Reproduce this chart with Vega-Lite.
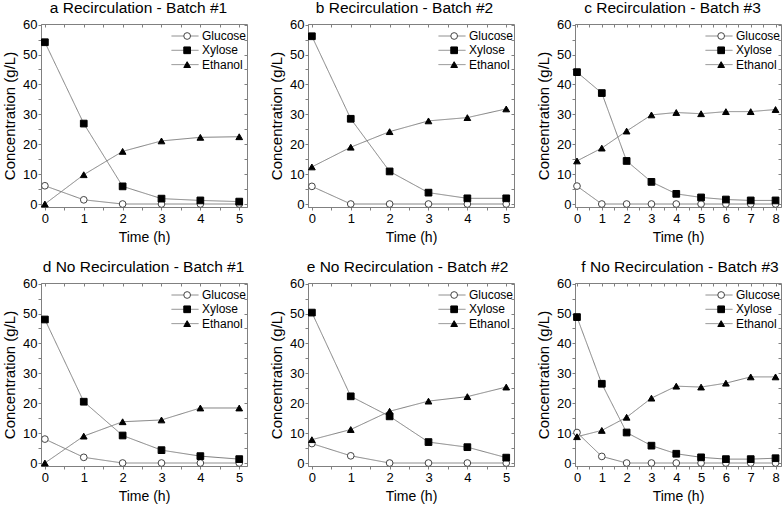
{
  "$schema": "https://vega.github.io/schema/vega-lite/v6.json",
  "padding": {"left": 2, "right": 1, "top": 0, "bottom": 2},
  "background": "white",
  "config": {
    "font": "Liberation Sans",
    "view": {"stroke": "#808080", "strokeWidth": 1},
    "title": {"fontSize": 15.5, "fontWeight": "normal", "offset": 2, "frame": "group", "anchor": "middle", "color": "black"},
    "axis": {"labelFontSize": 13, "titleFontSize": 14, "titleFontWeight": "normal", "labelColor": "black", "titleColor": "black", "domainColor": "#808080", "tickColor": "#808080", "tickSize": 3, "grid": false, "labelPadding": 1, "titlePadding": 5, "labelOverlap": false, "labelFlush": false},
    "axisX": {"labelPadding": 2},
    "axisY": {"titleFontSize": 15},
    "point": {"size": 45},
    "legend": {
      "orient": "none", "legendX": 130, "legendY": 5, "title": null, "labelFontSize": 12, "labelColor": "black",
      "clipHeight": 14, "rowPadding": 0.3, "symbolStrokeWidth": 1, "padding": 0
    }
  },
  "data": {"values": [
    {"p":"a","t":0,"c":"Glucose","v":6.1},{"p":"a","t":1,"c":"Glucose","v":1.4},{"p":"a","t":2,"c":"Glucose","v":0},{"p":"a","t":3,"c":"Glucose","v":0},{"p":"a","t":4,"c":"Glucose","v":0},{"p":"a","t":5,"c":"Glucose","v":0},
    {"p":"a","t":0,"c":"Xylose","v":54.1},{"p":"a","t":1,"c":"Xylose","v":26.9},{"p":"a","t":2,"c":"Xylose","v":5.9},{"p":"a","t":3,"c":"Xylose","v":1.8},{"p":"a","t":4,"c":"Xylose","v":1.2},{"p":"a","t":5,"c":"Xylose","v":0.8},
    {"p":"a","t":0,"c":"Ethanol","v":0},{"p":"a","t":1,"c":"Ethanol","v":9.8},{"p":"a","t":2,"c":"Ethanol","v":17.6},{"p":"a","t":3,"c":"Ethanol","v":21.1},{"p":"a","t":4,"c":"Ethanol","v":22.3},{"p":"a","t":5,"c":"Ethanol","v":22.5},
    {"p":"b","t":0,"c":"Glucose","v":5.9},{"p":"b","t":1,"c":"Glucose","v":0},{"p":"b","t":2,"c":"Glucose","v":0},{"p":"b","t":3,"c":"Glucose","v":0},{"p":"b","t":4,"c":"Glucose","v":0},{"p":"b","t":5,"c":"Glucose","v":0},
    {"p":"b","t":0,"c":"Xylose","v":56.1},{"p":"b","t":1,"c":"Xylose","v":28.5},{"p":"b","t":2,"c":"Xylose","v":10.9},{"p":"b","t":3,"c":"Xylose","v":3.8},{"p":"b","t":4,"c":"Xylose","v":1.9},{"p":"b","t":5,"c":"Xylose","v":1.9},
    {"p":"b","t":0,"c":"Ethanol","v":12.4},{"p":"b","t":1,"c":"Ethanol","v":19.0},{"p":"b","t":2,"c":"Ethanol","v":24.2},{"p":"b","t":3,"c":"Ethanol","v":27.8},{"p":"b","t":4,"c":"Ethanol","v":28.9},{"p":"b","t":5,"c":"Ethanol","v":31.8},
    {"p":"c","t":0,"c":"Glucose","v":6.0},{"p":"c","t":1,"c":"Glucose","v":0},{"p":"c","t":2,"c":"Glucose","v":0},{"p":"c","t":3,"c":"Glucose","v":0},{"p":"c","t":4,"c":"Glucose","v":0},{"p":"c","t":5,"c":"Glucose","v":0},{"p":"c","t":6,"c":"Glucose","v":0},{"p":"c","t":7,"c":"Glucose","v":0},{"p":"c","t":8,"c":"Glucose","v":0},
    {"p":"c","t":0,"c":"Xylose","v":44.1},{"p":"c","t":1,"c":"Xylose","v":37.1},{"p":"c","t":2,"c":"Xylose","v":14.4},{"p":"c","t":3,"c":"Xylose","v":7.4},{"p":"c","t":4,"c":"Xylose","v":3.4},{"p":"c","t":5,"c":"Xylose","v":2.2},{"p":"c","t":6,"c":"Xylose","v":1.5},{"p":"c","t":7,"c":"Xylose","v":1.2},{"p":"c","t":8,"c":"Xylose","v":1.2},
    {"p":"c","t":0,"c":"Ethanol","v":14.4},{"p":"c","t":1,"c":"Ethanol","v":18.7},{"p":"c","t":2,"c":"Ethanol","v":24.4},{"p":"c","t":3,"c":"Ethanol","v":29.8},{"p":"c","t":4,"c":"Ethanol","v":30.6},{"p":"c","t":5,"c":"Ethanol","v":30.2},{"p":"c","t":6,"c":"Ethanol","v":30.9},{"p":"c","t":7,"c":"Ethanol","v":30.9},{"p":"c","t":8,"c":"Ethanol","v":31.6},
    {"p":"d","t":0,"c":"Glucose","v":8.0},{"p":"d","t":1,"c":"Glucose","v":1.9},{"p":"d","t":2,"c":"Glucose","v":0},{"p":"d","t":3,"c":"Glucose","v":0},{"p":"d","t":4,"c":"Glucose","v":0},{"p":"d","t":5,"c":"Glucose","v":0},
    {"p":"d","t":0,"c":"Xylose","v":48.0},{"p":"d","t":1,"c":"Xylose","v":20.5},{"p":"d","t":2,"c":"Xylose","v":9.2},{"p":"d","t":3,"c":"Xylose","v":4.3},{"p":"d","t":4,"c":"Xylose","v":2.3},{"p":"d","t":5,"c":"Xylose","v":1.3},
    {"p":"d","t":0,"c":"Ethanol","v":0},{"p":"d","t":1,"c":"Ethanol","v":9.0},{"p":"d","t":2,"c":"Ethanol","v":13.8},{"p":"d","t":3,"c":"Ethanol","v":14.4},{"p":"d","t":4,"c":"Ethanol","v":18.4},{"p":"d","t":5,"c":"Ethanol","v":18.4},
    {"p":"e","t":0,"c":"Glucose","v":6.5},{"p":"e","t":1,"c":"Glucose","v":2.4},{"p":"e","t":2,"c":"Glucose","v":0},{"p":"e","t":3,"c":"Glucose","v":0},{"p":"e","t":4,"c":"Glucose","v":0},{"p":"e","t":5,"c":"Glucose","v":0},
    {"p":"e","t":0,"c":"Xylose","v":50.3},{"p":"e","t":1,"c":"Xylose","v":22.3},{"p":"e","t":2,"c":"Xylose","v":15.6},{"p":"e","t":3,"c":"Xylose","v":7.0},{"p":"e","t":4,"c":"Xylose","v":5.3},{"p":"e","t":5,"c":"Xylose","v":1.8},
    {"p":"e","t":0,"c":"Ethanol","v":7.8},{"p":"e","t":1,"c":"Ethanol","v":11.2},{"p":"e","t":2,"c":"Ethanol","v":17.3},{"p":"e","t":3,"c":"Ethanol","v":20.7},{"p":"e","t":4,"c":"Ethanol","v":22.2},{"p":"e","t":5,"c":"Ethanol","v":25.4},
    {"p":"f","t":0,"c":"Glucose","v":10.2},{"p":"f","t":1,"c":"Glucose","v":2.2},{"p":"f","t":2,"c":"Glucose","v":0},{"p":"f","t":3,"c":"Glucose","v":0},{"p":"f","t":4,"c":"Glucose","v":0},{"p":"f","t":5,"c":"Glucose","v":0},{"p":"f","t":6,"c":"Glucose","v":0},{"p":"f","t":7,"c":"Glucose","v":0},{"p":"f","t":8,"c":"Glucose","v":0},
    {"p":"f","t":0,"c":"Xylose","v":48.8},{"p":"f","t":1,"c":"Xylose","v":26.5},{"p":"f","t":2,"c":"Xylose","v":10.2},{"p":"f","t":3,"c":"Xylose","v":5.8},{"p":"f","t":4,"c":"Xylose","v":3.1},{"p":"f","t":5,"c":"Xylose","v":1.9},{"p":"f","t":6,"c":"Xylose","v":1.3},{"p":"f","t":7,"c":"Xylose","v":1.3},{"p":"f","t":8,"c":"Xylose","v":1.6},
    {"p":"f","t":0,"c":"Ethanol","v":8.8},{"p":"f","t":1,"c":"Ethanol","v":10.9},{"p":"f","t":2,"c":"Ethanol","v":15.3},{"p":"f","t":3,"c":"Ethanol","v":21.7},{"p":"f","t":4,"c":"Ethanol","v":25.7},{"p":"f","t":5,"c":"Ethanol","v":25.4},{"p":"f","t":6,"c":"Ethanol","v":26.7},{"p":"f","t":7,"c":"Ethanol","v":28.8},{"p":"f","t":8,"c":"Ethanol","v":28.8}
  ]},
  "resolve": {"scale": {"shape": "independent", "fill": "independent", "stroke": "independent", "strokeDash": "independent"}, "legend": {"shape": "independent", "fill": "independent", "stroke": "independent", "strokeDash": "independent"}},
  "spacing": 14,
  "vconcat": [
    {
      "spacing": 21,
      "resolve": {"scale": {"shape": "independent", "fill": "independent", "stroke": "independent", "strokeDash": "independent"}, "legend": {"shape": "independent", "fill": "independent", "stroke": "independent", "strokeDash": "independent"}},
      "hconcat": [
        {
          "title": {"text": "a Recirculation - Batch #1", "dx": -5.5},
          "width": 206, "height": 183,
          "transform": [{"filter": "datum.p === 'a'"}],
          "resolve": {"axis": {"x": "independent", "y": "independent"}},
          "layer": [
            {"mark": {"type": "line", "strokeWidth": 1, "color": "#808080"},
             "encoding": {
               "x": {"field": "t", "type": "quantitative", "scale": {"domain": [-0.1, 5.2], "nice": false, "zero": false}, "axis": {"title": "Time (h)", "values": [0,0.5,1,1.5,2,2.5,3,3.5,4,4.5,5], "labelExpr": "datum.value % 1 ? '' : '' + datum.value"}},
               "y": {"field": "v", "type": "quantitative", "scale": {"domain": [-1, 60.2], "nice": false, "zero": false}, "axis": {"title": "Concentration (g/L)", "values": [0,5,10,15,20,25,30,35,40,45,50,55,60], "labelExpr": "datum.value % 10 ? '' : '' + datum.value"}},
               "strokeDash": {"field": "c", "type": "nominal", "sort": ["Glucose","Xylose","Ethanol"], "scale": {"range": [[1,0],[1,0],[1,0]]}, "legend": {"symbolType": "stroke", "symbolSize": 729, "labelOffset": 3, "symbolStrokeColor": "#808080"}}}},
            {"mark": {"type": "point", "filled": true, "opacity": 1, "strokeWidth": 1},
             "encoding": {
               "x": {"field": "t", "type": "quantitative", "axis": {"orient": "top", "labels": false, "title": null, "domain": false, "tickSize": -3, "values": [0,0.5,1,1.5,2,2.5,3,3.5,4,4.5,5]}},
               "y": {"field": "v", "type": "quantitative", "axis": {"orient": "right", "labels": false, "title": null, "domain": false, "tickSize": -3, "values": [0,5,10,15,20,25,30,35,40,45,50,55,60]}},
               "shape": {"field": "c", "type": "nominal", "scale": {"domain": ["Glucose","Xylose","Ethanol"], "range": ["circle","square","triangle-up"]}, "legend": {"symbolSize": 45, "symbolOffset": 10.15, "labelExpr": "''"}},
               "fill": {"field": "c", "type": "nominal", "scale": {"domain": ["Glucose","Xylose","Ethanol"], "range": ["white","black","black"]}, "legend": null},
               "stroke": {"field": "c", "type": "nominal", "scale": {"domain": ["Glucose","Xylose","Ethanol"], "range": ["#444","black","black"]}, "legend": null}}}
          ]
        },
        {
          "title": {"text": "b Recirculation - Batch #2", "dx": -6.5},
          "width": 206, "height": 183,
          "transform": [{"filter": "datum.p === 'b'"}],
          "resolve": {"axis": {"x": "independent", "y": "independent"}},
          "layer": [
            {"mark": {"type": "line", "strokeWidth": 1, "color": "#808080"},
             "encoding": {
               "x": {"field": "t", "type": "quantitative", "scale": {"domain": [-0.1, 5.2], "nice": false, "zero": false}, "axis": {"title": "Time (h)", "values": [0,0.5,1,1.5,2,2.5,3,3.5,4,4.5,5], "labelExpr": "datum.value % 1 ? '' : '' + datum.value"}},
               "y": {"field": "v", "type": "quantitative", "scale": {"domain": [-1, 60.2], "nice": false, "zero": false}, "axis": {"title": "Concentration (g/L)", "values": [0,5,10,15,20,25,30,35,40,45,50,55,60], "labelExpr": "datum.value % 10 ? '' : '' + datum.value"}},
               "strokeDash": {"field": "c", "type": "nominal", "sort": ["Glucose","Xylose","Ethanol"], "scale": {"range": [[1,0],[1,0],[1,0]]}, "legend": {"symbolType": "stroke", "symbolSize": 729, "labelOffset": 3, "symbolStrokeColor": "#808080"}}}},
            {"mark": {"type": "point", "filled": true, "opacity": 1, "strokeWidth": 1},
             "encoding": {
               "x": {"field": "t", "type": "quantitative", "axis": {"orient": "top", "labels": false, "title": null, "domain": false, "tickSize": -3, "values": [0,0.5,1,1.5,2,2.5,3,3.5,4,4.5,5]}},
               "y": {"field": "v", "type": "quantitative", "axis": {"orient": "right", "labels": false, "title": null, "domain": false, "tickSize": -3, "values": [0,5,10,15,20,25,30,35,40,45,50,55,60]}},
               "shape": {"field": "c", "type": "nominal", "scale": {"domain": ["Glucose","Xylose","Ethanol"], "range": ["circle","square","triangle-up"]}, "legend": {"symbolSize": 45, "symbolOffset": 10.15, "labelExpr": "''"}},
               "fill": {"field": "c", "type": "nominal", "scale": {"domain": ["Glucose","Xylose","Ethanol"], "range": ["white","black","black"]}, "legend": null},
               "stroke": {"field": "c", "type": "nominal", "scale": {"domain": ["Glucose","Xylose","Ethanol"], "range": ["#444","black","black"]}, "legend": null}}}
          ]
        },
        {
          "title": {"text": "c Recirculation - Batch #3", "dx": -5.5},
          "width": 206, "height": 183,
          "transform": [{"filter": "datum.p === 'c'"}],
          "resolve": {"axis": {"x": "independent", "y": "independent"}},
          "layer": [
            {"mark": {"type": "line", "strokeWidth": 1, "color": "#808080"},
             "encoding": {
               "x": {"field": "t", "type": "quantitative", "scale": {"domain": [-0.08, 8.22], "nice": false, "zero": false}, "axis": {"title": "Time (h)", "values": [0,0.5,1,1.5,2,2.5,3,3.5,4,4.5,5,5.5,6,6.5,7,7.5,8], "labelExpr": "datum.value % 1 ? '' : '' + datum.value"}},
               "y": {"field": "v", "type": "quantitative", "scale": {"domain": [-1, 60.2], "nice": false, "zero": false}, "axis": {"title": "Concentration (g/L)", "values": [0,5,10,15,20,25,30,35,40,45,50,55,60], "labelExpr": "datum.value % 10 ? '' : '' + datum.value"}},
               "strokeDash": {"field": "c", "type": "nominal", "sort": ["Glucose","Xylose","Ethanol"], "scale": {"range": [[1,0],[1,0],[1,0]]}, "legend": {"symbolType": "stroke", "symbolSize": 729, "labelOffset": 3, "symbolStrokeColor": "#808080"}}}},
            {"mark": {"type": "point", "filled": true, "opacity": 1, "strokeWidth": 1},
             "encoding": {
               "x": {"field": "t", "type": "quantitative", "axis": {"orient": "top", "labels": false, "title": null, "domain": false, "tickSize": -3, "values": [0,0.5,1,1.5,2,2.5,3,3.5,4,4.5,5,5.5,6,6.5,7,7.5,8]}},
               "y": {"field": "v", "type": "quantitative", "axis": {"orient": "right", "labels": false, "title": null, "domain": false, "tickSize": -3, "values": [0,5,10,15,20,25,30,35,40,45,50,55,60]}},
               "shape": {"field": "c", "type": "nominal", "scale": {"domain": ["Glucose","Xylose","Ethanol"], "range": ["circle","square","triangle-up"]}, "legend": {"symbolSize": 45, "symbolOffset": 10.15, "labelExpr": "''"}},
               "fill": {"field": "c", "type": "nominal", "scale": {"domain": ["Glucose","Xylose","Ethanol"], "range": ["white","black","black"]}, "legend": null},
               "stroke": {"field": "c", "type": "nominal", "scale": {"domain": ["Glucose","Xylose","Ethanol"], "range": ["#444","black","black"]}, "legend": null}}}
          ]
        }
      ]
    },
    {
      "spacing": 21,
      "resolve": {"scale": {"shape": "independent", "fill": "independent", "stroke": "independent", "strokeDash": "independent"}, "legend": {"shape": "independent", "fill": "independent", "stroke": "independent", "strokeDash": "independent"}},
      "hconcat": [
        {
          "title": {"text": "d No Recirculation - Batch #1", "dx": -0.5},
          "width": 206, "height": 183,
          "transform": [{"filter": "datum.p === 'd'"}],
          "resolve": {"axis": {"x": "independent", "y": "independent"}},
          "layer": [
            {"mark": {"type": "line", "strokeWidth": 1, "color": "#808080"},
             "encoding": {
               "x": {"field": "t", "type": "quantitative", "scale": {"domain": [-0.1, 5.2], "nice": false, "zero": false}, "axis": {"title": "Time (h)", "values": [0,0.5,1,1.5,2,2.5,3,3.5,4,4.5,5], "labelExpr": "datum.value % 1 ? '' : '' + datum.value"}},
               "y": {"field": "v", "type": "quantitative", "scale": {"domain": [-1, 60.2], "nice": false, "zero": false}, "axis": {"title": "Concentration (g/L)", "values": [0,5,10,15,20,25,30,35,40,45,50,55,60], "labelExpr": "datum.value % 10 ? '' : '' + datum.value"}},
               "strokeDash": {"field": "c", "type": "nominal", "sort": ["Glucose","Xylose","Ethanol"], "scale": {"range": [[1,0],[1,0],[1,0]]}, "legend": {"symbolType": "stroke", "symbolSize": 729, "labelOffset": 3, "symbolStrokeColor": "#808080"}}}},
            {"mark": {"type": "point", "filled": true, "opacity": 1, "strokeWidth": 1},
             "encoding": {
               "x": {"field": "t", "type": "quantitative", "axis": {"orient": "top", "labels": false, "title": null, "domain": false, "tickSize": -3, "values": [0,0.5,1,1.5,2,2.5,3,3.5,4,4.5,5]}},
               "y": {"field": "v", "type": "quantitative", "axis": {"orient": "right", "labels": false, "title": null, "domain": false, "tickSize": -3, "values": [0,5,10,15,20,25,30,35,40,45,50,55,60]}},
               "shape": {"field": "c", "type": "nominal", "scale": {"domain": ["Glucose","Xylose","Ethanol"], "range": ["circle","square","triangle-up"]}, "legend": {"symbolSize": 45, "symbolOffset": 10.15, "labelExpr": "''"}},
               "fill": {"field": "c", "type": "nominal", "scale": {"domain": ["Glucose","Xylose","Ethanol"], "range": ["white","black","black"]}, "legend": null},
               "stroke": {"field": "c", "type": "nominal", "scale": {"domain": ["Glucose","Xylose","Ethanol"], "range": ["#444","black","black"]}, "legend": null}}}
          ]
        },
        {
          "title": {"text": "e No Recirculation - Batch #2", "dx": -3.5},
          "width": 206, "height": 183,
          "transform": [{"filter": "datum.p === 'e'"}],
          "resolve": {"axis": {"x": "independent", "y": "independent"}},
          "layer": [
            {"mark": {"type": "line", "strokeWidth": 1, "color": "#808080"},
             "encoding": {
               "x": {"field": "t", "type": "quantitative", "scale": {"domain": [-0.1, 5.2], "nice": false, "zero": false}, "axis": {"title": "Time (h)", "values": [0,0.5,1,1.5,2,2.5,3,3.5,4,4.5,5], "labelExpr": "datum.value % 1 ? '' : '' + datum.value"}},
               "y": {"field": "v", "type": "quantitative", "scale": {"domain": [-1, 60.2], "nice": false, "zero": false}, "axis": {"title": "Concentration (g/L)", "values": [0,5,10,15,20,25,30,35,40,45,50,55,60], "labelExpr": "datum.value % 10 ? '' : '' + datum.value"}},
               "strokeDash": {"field": "c", "type": "nominal", "sort": ["Glucose","Xylose","Ethanol"], "scale": {"range": [[1,0],[1,0],[1,0]]}, "legend": {"symbolType": "stroke", "symbolSize": 729, "labelOffset": 3, "symbolStrokeColor": "#808080"}}}},
            {"mark": {"type": "point", "filled": true, "opacity": 1, "strokeWidth": 1},
             "encoding": {
               "x": {"field": "t", "type": "quantitative", "axis": {"orient": "top", "labels": false, "title": null, "domain": false, "tickSize": -3, "values": [0,0.5,1,1.5,2,2.5,3,3.5,4,4.5,5]}},
               "y": {"field": "v", "type": "quantitative", "axis": {"orient": "right", "labels": false, "title": null, "domain": false, "tickSize": -3, "values": [0,5,10,15,20,25,30,35,40,45,50,55,60]}},
               "shape": {"field": "c", "type": "nominal", "scale": {"domain": ["Glucose","Xylose","Ethanol"], "range": ["circle","square","triangle-up"]}, "legend": {"symbolSize": 45, "symbolOffset": 10.15, "labelExpr": "''"}},
               "fill": {"field": "c", "type": "nominal", "scale": {"domain": ["Glucose","Xylose","Ethanol"], "range": ["white","black","black"]}, "legend": null},
               "stroke": {"field": "c", "type": "nominal", "scale": {"domain": ["Glucose","Xylose","Ethanol"], "range": ["#444","black","black"]}, "legend": null}}}
          ]
        },
        {
          "title": {"text": "f No Recirculation - Batch #3", "dx": 2},
          "width": 206, "height": 183,
          "transform": [{"filter": "datum.p === 'f'"}],
          "resolve": {"axis": {"x": "independent", "y": "independent"}},
          "layer": [
            {"mark": {"type": "line", "strokeWidth": 1, "color": "#808080"},
             "encoding": {
               "x": {"field": "t", "type": "quantitative", "scale": {"domain": [-0.08, 8.22], "nice": false, "zero": false}, "axis": {"title": "Time (h)", "values": [0,0.5,1,1.5,2,2.5,3,3.5,4,4.5,5,5.5,6,6.5,7,7.5,8], "labelExpr": "datum.value % 1 ? '' : '' + datum.value"}},
               "y": {"field": "v", "type": "quantitative", "scale": {"domain": [-1, 60.2], "nice": false, "zero": false}, "axis": {"title": "Concentration (g/L)", "values": [0,5,10,15,20,25,30,35,40,45,50,55,60], "labelExpr": "datum.value % 10 ? '' : '' + datum.value"}},
               "strokeDash": {"field": "c", "type": "nominal", "sort": ["Glucose","Xylose","Ethanol"], "scale": {"range": [[1,0],[1,0],[1,0]]}, "legend": {"symbolType": "stroke", "symbolSize": 729, "labelOffset": 3, "symbolStrokeColor": "#808080"}}}},
            {"mark": {"type": "point", "filled": true, "opacity": 1, "strokeWidth": 1},
             "encoding": {
               "x": {"field": "t", "type": "quantitative", "axis": {"orient": "top", "labels": false, "title": null, "domain": false, "tickSize": -3, "values": [0,0.5,1,1.5,2,2.5,3,3.5,4,4.5,5,5.5,6,6.5,7,7.5,8]}},
               "y": {"field": "v", "type": "quantitative", "axis": {"orient": "right", "labels": false, "title": null, "domain": false, "tickSize": -3, "values": [0,5,10,15,20,25,30,35,40,45,50,55,60]}},
               "shape": {"field": "c", "type": "nominal", "scale": {"domain": ["Glucose","Xylose","Ethanol"], "range": ["circle","square","triangle-up"]}, "legend": {"symbolSize": 45, "symbolOffset": 10.15, "labelExpr": "''"}},
               "fill": {"field": "c", "type": "nominal", "scale": {"domain": ["Glucose","Xylose","Ethanol"], "range": ["white","black","black"]}, "legend": null},
               "stroke": {"field": "c", "type": "nominal", "scale": {"domain": ["Glucose","Xylose","Ethanol"], "range": ["#444","black","black"]}, "legend": null}}}
          ]
        }
      ]
    }
  ]
}
